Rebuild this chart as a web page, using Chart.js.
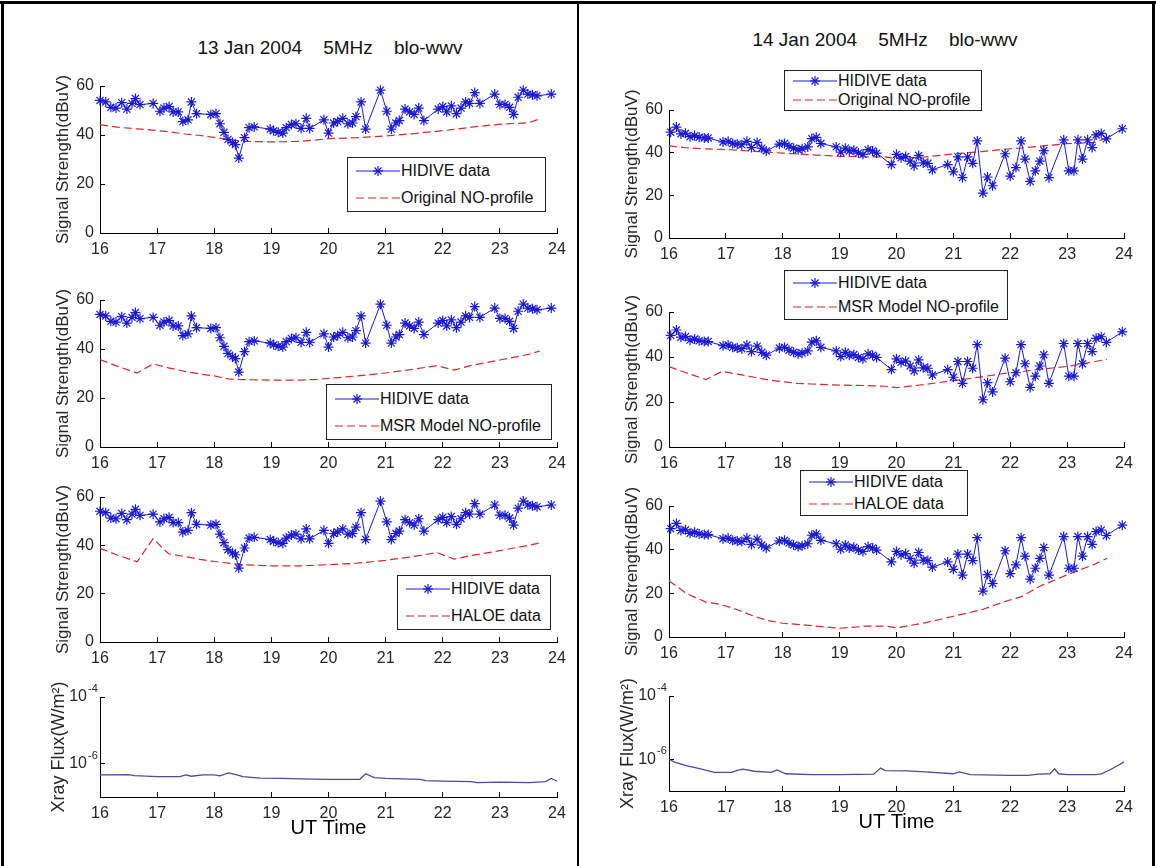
<!DOCTYPE html>
<html>
<head>
<meta charset="utf-8">
<script src="https://cdn.jsdelivr.net/npm/chart.js@4.4.1/dist/chart.umd.min.js"></script>
<style>
  body { margin:0; width:1156px; height:866px; position:relative; overflow:hidden; background:#fff;
         font-family:"Liberation Sans", Arial, sans-serif; color:#111; }
  .rule { position:absolute; background:#000; }
  canvas { position:absolute; }
  .title { position:absolute; font-size:19px; white-space:pre; transform:translate(-50%,-50%); }
  .legend { position:absolute; box-sizing:border-box; border:1px solid #222; background:#fff; font-size:16px;
            display:flex; flex-direction:column; justify-content:space-around; padding:0 4px 0 8px; z-index:2; }
  .legend div { display:flex; align-items:center; white-space:nowrap; line-height:1; }
  .legend svg { flex:none; margin-right:1px; }
</style>
</head>
<body>
<div class="rule" style="left:0;top:1px;width:1156px;height:3px"></div>
<div class="rule" style="left:1px;top:1px;width:3px;height:866px"></div>
<div class="rule" style="left:577px;top:1px;width:2px;height:866px"></div>
<div class="rule" style="left:1152px;top:1px;width:3px;height:866px"></div>

<div class="title" style="left:330px;top:48px">13 Jan 2004    5MHz    blo-wwv</div>
<div class="title" style="left:885px;top:40px">14 Jan 2004    5MHz    blo-wwv</div>

<script>
// ---- shared axes ----
const xTicks = [16, 17, 18, 19, 20, 21, 22, 23, 24];
const signalTicks = [0, 20, 40, 60];
const xrayTicks = [1e-6, 1e-4];
const xrayExponents = ['-6', '-4'];

// ---- 13 Jan 2004 ----
const jan13Time = [16.0, 16.1, 16.19, 16.28, 16.38, 16.47, 16.56, 16.62, 16.7,
  16.93, 17.05, 17.12, 17.21, 17.28, 17.37, 17.45, 17.54, 17.6, 17.69,
  17.94, 18.03, 18.1, 18.17, 18.24, 18.32, 18.37, 18.43, 18.53, 18.61, 18.7,
  18.98, 19.04, 19.12, 19.2, 19.26, 19.35, 19.43, 19.52, 19.61, 19.67,
  19.92, 20.0, 20.09, 20.16, 20.25, 20.34, 20.42, 20.48, 20.57, 20.65,
  20.91, 21.02, 21.1, 21.18, 21.24, 21.34, 21.42, 21.5, 21.58, 21.67,
  21.92, 22.0, 22.07, 22.15, 22.24, 22.32, 22.4, 22.47, 22.56, 22.65,
  22.91, 23.0, 23.09, 23.17, 23.24, 23.32, 23.41, 23.49, 23.57, 23.65, 23.9];
const jan13Hidive = [54.1, 53.5, 51.3, 51, 53.2, 50.6, 52.9, 54.9, 52.4,
  52.9, 49.7, 51, 51.6, 49.4, 49.4, 45.5, 46.2, 53.5, 48.7,
  48.4, 48.7, 44.6, 41.1, 38.2, 36.9, 36.1, 30.6, 38.9, 43, 43.3,
  42.4, 41.7, 41.1, 40.8, 43, 44.3, 44.6, 42.7, 46.8, 42.7,
  46.2, 40.8, 44.9, 45.5, 46.8, 44.6, 44.9, 47.5, 53.5, 42.4,
  58.3, 49.7, 42.4, 44.9, 45.9, 50.6, 49.4, 48.4, 51, 45.9,
  50.6, 51.6, 49.4, 51.9, 48.7, 51, 53.5, 52.9, 57.3, 52.9,
  56.7, 52.5, 52.5, 51.3, 48.4, 55.4, 58.3, 56.7, 56.4, 56, 56.7];

// model curves share one time grid
const modelTime = [16, 16.3, 16.65, 16.93, 17.2, 17.5, 17.75, 18, 18.25, 18.5, 19, 19.5,
  19.8, 20, 20.5, 21, 21.5, 21.9, 22.2, 22.5, 23, 23.5, 23.7];
const jan13Original = [44.2, 43.2, 42.5, 42, 41.3, 40.4, 39.8, 39, 38.2, 37.4, 37.2, 37.4,
  38, 38.5, 38.9, 39.6, 40.6, 41.5, 42.3, 43.2, 44.4, 45, 46.6];
const jan13Msr = [35.7, 33, 30.2, 33.9, 32.3, 30.8, 29.8, 29, 27.8, 27.5, 27.3, 27.3,
  27.6, 28, 29, 30.2, 31.8, 33.2, 31.4, 33.3, 35.5, 37.8, 39.2];
const jan13Haloe = [38.8, 36, 33.2, 42.8, 36.5, 35.3, 34.2, 33.3, 32.6, 32, 31.5, 31.5,
  31.8, 32, 32.6, 33.8, 35.4, 37, 34.3, 35.8, 37.8, 40, 41];

const jan13XrayTime = [16, 16.5, 16.6, 17, 17.4, 17.5, 17.6, 17.8, 18.0, 18.1, 18.25, 18.4, 18.5,
  18.8, 19.2, 19.5, 20, 20.55, 20.65, 20.8, 21, 21.6, 21.7, 22, 22.5, 22.6, 23, 23.5, 23.8, 23.9, 24];
const jan13Xray = [4.6e-7, 4.7e-7, 4.4e-7, 4.1e-7, 4.1e-7, 4.6e-7, 4.2e-7, 4.6e-7, 4.6e-7, 4.3e-7, 5.3e-7, 4.6e-7, 4.1e-7,
  3.7e-7, 3.6e-7, 3.5e-7, 3.4e-7, 3.4e-7, 5.0e-7, 3.8e-7, 3.6e-7, 3.4e-7, 3.1e-7, 3.0e-7, 2.9e-7, 2.7e-7, 2.8e-7, 2.7e-7, 2.9e-7, 3.6e-7, 3.0e-7];

// ---- 14 Jan 2004 ----
const jan14Time = [16.03, 16.13, 16.21, 16.29, 16.37, 16.45, 16.53, 16.62, 16.69,
  16.95, 17.04, 17.12, 17.2, 17.28, 17.37, 17.45, 17.55, 17.63, 17.71,
  17.94, 18.03, 18.11, 18.19, 18.27, 18.34, 18.44, 18.51, 18.59, 18.67,
  18.94, 19.02, 19.1, 19.17, 19.25, 19.33, 19.41, 19.5, 19.58, 19.65,
  19.91, 20.0, 20.08, 20.16, 20.24, 20.31, 20.39, 20.47, 20.55, 20.63,
  20.9, 21.0, 21.08, 21.16, 21.25, 21.34, 21.42, 21.52, 21.6, 21.69,
  21.91, 22.0, 22.1, 22.19, 22.26, 22.35, 22.44, 22.52, 22.59, 22.68,
  22.94, 23.03, 23.12, 23.19, 23.27, 23.36, 23.44, 23.51, 23.6, 23.69, 23.97];
const jan14Hidive = [49.6, 52, 48.8, 49.1, 47.5, 48, 47.2, 46.9, 46.9,
  45, 45.3, 44.3, 44, 43.7, 45.3, 42.4, 44.8, 42.1, 40.8,
  44, 44.3, 43, 42.1, 41.4, 41.8, 42.7, 46.6, 47.2, 44.3,
  42.7, 40.2, 42.1, 40.8, 41.1, 39.8, 39.2, 41.4, 40.8, 39.8,
  34.4, 39.2, 37.6, 38.2, 36, 33.8, 38.7, 35.2, 35, 32,
  34.4, 31, 38, 28.3, 38, 35, 45.5, 21, 28.6, 24.5,
  39.5, 29, 33, 45.5, 37, 26.5, 31.5, 36, 41, 28.3,
  46, 31.5, 31.5, 46, 37, 46, 42.4, 48.3, 49, 46.5, 51.2];
const jan14Original = [43.2, 42.3, 41.8, 41.5, 41.2, 40.6, 40.2, 39.8, 39.4, 39, 38.3, 38,
  38, 37.2, 38, 39.4, 40.5, 41.6, 42.2, 43, 44.2, 44.8, 47];
const jan14Msr = [35.7, 33, 30, 33.6, 32.4, 31, 29.8, 29, 28.3, 28, 27.5, 27.3,
  27, 26.4, 27.8, 29.5, 31.2, 32.7, 33.5, 34.5, 35.8, 38, 39];
const jan14Haloe = [25.8, 20, 16, 14.8, 12.5, 9.5, 7.5, 6.3, 5.8, 5.2, 4, 5,
  5, 4.2, 6.5, 9.5, 12.5, 16.2, 18.5, 23, 28.5, 33.5, 36];

const jan14XrayTime = [16, 16.1, 16.3, 16.5, 16.8, 17.1, 17.2, 17.3, 17.5, 17.8, 17.9, 18.05, 18.5, 19, 19.6,
  19.72, 19.8, 20.2, 20.5, 21, 21.1, 21.3, 22, 22.3, 22.5, 22.7, 22.78, 22.85, 23, 23.5, 23.6, 23.75, 23.9, 24];
const jan14Xray = [1.0e-6, 8.2e-7, 6.3e-7, 5.3e-7, 3.9e-7, 3.9e-7, 4.5e-7, 4.9e-7, 4.2e-7, 3.9e-7, 4.6e-7, 3.5e-7, 3.3e-7, 3.3e-7, 3.4e-7,
  5.3e-7, 4.4e-7, 4.3e-7, 4.0e-7, 3.5e-7, 4.0e-7, 3.3e-7, 3.1e-7, 3.1e-7, 3.4e-7, 3.5e-7, 5.0e-7, 3.5e-7, 3.3e-7, 3.3e-7, 3.5e-7, 4.6e-7, 6.5e-7, 8.3e-7];

// ---- drawing ----
const BLUE = '#1a1ad6', RED = '#d42a2a', XRAY = '#4b4b9b', INK = '#262626';
const pts = (xs, ys) => xs.map((x, i) => ({ x, y: ys[i] }));

const hidiveSet = (t, v) => ({ data: pts(t, v), borderColor: BLUE, borderWidth: 1, pointStyle: 'star',
  pointRadius: 5, pointBorderColor: BLUE, pointBorderWidth: 1.2, clip: false });
const modelSet = (t, v) => ({ data: pts(t, v), borderColor: RED, borderWidth: 1.2, borderDash: [8, 4], pointRadius: 0 });
const xraySet = (t, v) => ({ data: pts(t, v), borderColor: XRAY, borderWidth: 1.3, pointRadius: 0 });

// "10" tick labels get their exponent written as a raised, smaller text
const exponentPlugin = {
  id: 'exponent',
  afterDraw(chart) {
    const s = chart.scales.y;
    if (s.type !== 'logarithmic') return;
    const ctx = chart.ctx;
    ctx.save();
    ctx.fillStyle = INK;
    ctx.font = '11px "Liberation Sans", Arial, sans-serif';
    ctx.textAlign = 'left';
    ctx.textBaseline = 'middle';
    xrayTicks.forEach((v, i) => {
      ctx.fillText(xrayExponents[i], s.right - 12, s.getPixelForValue(v) - 8);
    });
    ctx.restore();
  }
};

function subplot(box, cfg) {
  const padL = 90, padR = 30, padT = 30, padB = cfg.xTitle ? 60 : 40;
  const w = box.r - box.l + padL + padR, h = box.b - box.t + padT + padB;
  const c = document.createElement('canvas');
  c.width = w; c.height = h;
  c.style.left = (box.l - padL) + 'px';
  c.style.top = (box.t - padT) + 'px';
  document.body.appendChild(c);
  const log = !!cfg.log;
  const yTicks = log ? xrayTicks : signalTicks;
  new Chart(c, {
    type: 'line',
    data: { datasets: cfg.datasets },
    plugins: [exponentPlugin],
    options: {
      responsive: false, animation: false, devicePixelRatio: 1,
      layout: { padding: { left: 0, top: padT, right: padR, bottom: 0 } },
      plugins: { legend: { display: false }, tooltip: { enabled: false } },
      scales: {
        x: {
          type: 'linear', min: 16, max: 24,
          afterFit: s => { s.height = padB; },
          afterBuildTicks: s => { s.ticks = xTicks.map(v => ({ value: v })); },
          border: { display: true, color: '#000', width: 1 },
          grid: { drawOnChartArea: false, drawTicks: true, tickLength: -5, color: '#000' },
          ticks: { padding: 12, maxRotation: 0, autoSkip: false, color: INK, font: { size: 16 } },
          title: cfg.xTitle
            ? { display: true, text: cfg.xTitle, color: '#000', font: { size: 20 }, padding: { top: 0, bottom: 17 } }
            : { display: false }
        },
        y: {
          type: log ? 'logarithmic' : 'linear',
          min: log ? 1e-7 : 0, max: log ? 1e-4 : 60,
          afterFit: s => { s.width = padL; },
          afterBuildTicks: s => { s.ticks = yTicks.map(v => ({ value: v })); },
          border: { display: true, color: '#000', width: 1 },
          grid: { drawOnChartArea: false, drawTicks: true, tickLength: -5, color: '#000' },
          ticks: { padding: log ? 18 : 11, color: INK, font: { size: 16 },
                   callback: (v, i) => log ? '10' : String(signalTicks[i]) },
          title: { display: true, text: cfg.yTitle, color: INK, font: { size: log ? 18 : 17 },
                   padding: { top: padL - cfg.titleGap - (log ? 10.8 : 10.2), bottom: 0 } }
        }
      }
    }
  });
}

function legend(box, labels) {
  const d = document.createElement('div');
  d.className = 'legend';
  Object.assign(d.style, { left: box.l + 'px', top: box.t + 'px', width: (box.r - box.l) + 'px', height: (box.b - box.t) + 'px' });
  const star = '<line x1="0" y1="7" x2="44" y2="7" stroke="' + BLUE + '"/>' +
    '<g stroke="' + BLUE + '" stroke-width="1.2"><line x1="22" y1="2" x2="22" y2="12"/><line x1="17" y1="7" x2="27" y2="7"/>' +
    '<line x1="18.5" y1="3.5" x2="25.5" y2="10.5"/><line x1="18.5" y1="10.5" x2="25.5" y2="3.5"/></g>';
  const dash = '<line x1="0" y1="7" x2="44" y2="7" stroke="' + RED + '" stroke-width="1.2" stroke-dasharray="8 4"/>';
  d.innerHTML = '<div><svg width="44" height="14">' + star + '</svg>' + labels[0] + '</div>' +
                '<div><svg width="44" height="14">' + dash + '</svg>' + labels[1] + '</div>';
  document.body.appendChild(d);
}

const SIG = 'Signal Strength(dBuV)';
const XRY = 'Xray Flux(W/m\u00B2)';

// left panel: 13 Jan
const L = { l: 100, r: 557 };
subplot({ ...L, t: 86, b: 233 }, { yTitle: SIG, titleGap: 37, datasets: [hidiveSet(jan13Time, jan13Hidive), modelSet(modelTime, jan13Original)] });
subplot({ ...L, t: 300, b: 447 }, { yTitle: SIG, titleGap: 37, datasets: [hidiveSet(jan13Time, jan13Hidive), modelSet(modelTime, jan13Msr)] });
subplot({ ...L, t: 497, b: 642 }, { yTitle: SIG, titleGap: 37, datasets: [hidiveSet(jan13Time, jan13Hidive), modelSet(modelTime, jan13Haloe)] });
subplot({ ...L, t: 697, b: 797 }, { yTitle: XRY, titleGap: 41, log: true, xTitle: 'UT Time', datasets: [xraySet(jan13XrayTime, jan13Xray)] });

// right panel: 14 Jan
const R = { l: 669, r: 1124 };
subplot({ ...R, t: 110, b: 238 }, { yTitle: SIG, titleGap: 37, datasets: [hidiveSet(jan14Time, jan14Hidive), modelSet(modelTime, jan14Original)] });
subplot({ ...R, t: 312, b: 447 }, { yTitle: SIG, titleGap: 37, datasets: [hidiveSet(jan14Time, jan14Hidive), modelSet(modelTime, jan14Msr)] });
subplot({ ...R, t: 506, b: 637 }, { yTitle: SIG, titleGap: 37, datasets: [hidiveSet(jan14Time, jan14Hidive), modelSet(modelTime, jan14Haloe)] });
subplot({ ...R, t: 696, b: 791 }, { yTitle: XRY, titleGap: 41, log: true, xTitle: 'UT Time', datasets: [xraySet(jan14XrayTime, jan14Xray)] });

// legends
legend({ l: 347, r: 546, t: 157, b: 212 }, ['HIDIVE data', 'Original NO-profile']);
legend({ l: 326, r: 552, t: 384, b: 440 }, ['HIDIVE data', 'MSR Model NO-profile']);
legend({ l: 397, r: 551, t: 575, b: 630 }, ['HIDIVE data', 'HALOE data']);
legend({ l: 784, r: 982, t: 70, b: 111 }, ['HIDIVE data', 'Original NO-profile']);
legend({ l: 784, r: 1008, t: 270, b: 320 }, ['HIDIVE data', 'MSR Model NO-profile']);
legend({ l: 800, r: 968, t: 470, b: 516 }, ['HIDIVE data', 'HALOE data']);
</script>
</body>
</html>
